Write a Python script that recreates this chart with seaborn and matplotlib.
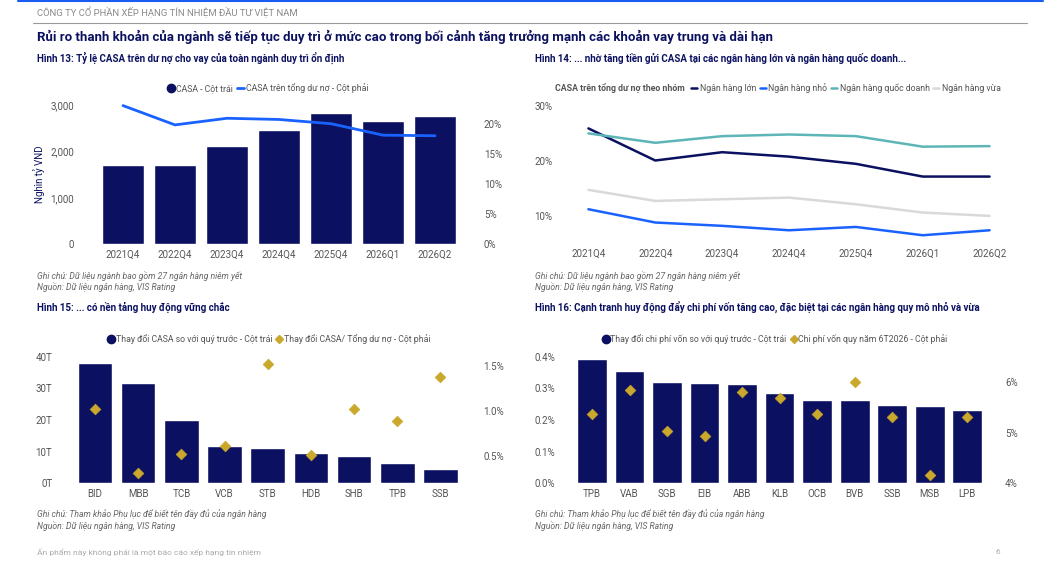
import numpy as np
import pandas as pd
import matplotlib
matplotlib.use("Agg")
import matplotlib.pyplot as plt
from matplotlib.lines import Line2D
import seaborn as sns

# ---------------- data ----------------
quarters = ["2021Q4", "2022Q4", "2023Q4", "2024Q4", "2025Q4", "2026Q1", "2026Q2"]
casa_total = [1702, 1700, 2113, 2451, 2819, 2646, 2754]          # nghìn tỷ VND
casa_ratio = [23.0, 19.8, 20.9, 20.7, 20.0, 18.1, 18.0]          # %

group_names = ["Ngân hàng lớn", "Ngân hàng nhỏ", "Ngân hàng quốc doanh", "Ngân hàng vừa"]
grp_large = [25.9, 20.1, 21.6, 20.8, 19.5, 17.2, 17.2]
grp_small = [11.3, 8.9, 8.3, 7.5, 8.1, 6.6, 7.5]
grp_state = [25.0, 23.3, 24.5, 24.8, 24.5, 22.6, 22.7]
grp_mid = [14.8, 12.8, 13.1, 13.4, 12.2, 10.7, 10.1]

banks15 = ["BID", "MBB", "TCB", "VCB", "STB", "HDB", "SHB", "TPB", "SSB"]
casa_change = [38.1, 31.7, 20.0, 11.8, 11.2, 9.6, 8.6, 6.4, 4.5]        # nghìn tỷ
casa_ratio_change = [1.02, 0.31, 0.52, 0.61, 1.52, 0.51, 1.02, 0.89, 1.38]  # %

banks16 = ["TPB", "VAB", "SGB", "EIB", "ABB", "KLB", "OCB", "BVB", "SSB", "MSB", "LPB"]
cof_change = [0.393, 0.355, 0.320, 0.317, 0.314, 0.285, 0.263, 0.263, 0.247, 0.244, 0.232]  # %
cof_annual = [5.37, 5.84, 5.04, 4.94, 5.80, 5.68, 5.37, 6.01, 5.31, 4.15, 5.30]             # %

# ---------------- style ----------------
sns.set_theme(style="white")
plt.rcParams["font.family"] = ["Roboto", "DejaVu Sans"]

NAVY = "#0B1160"
BLUE = "#1A62FF"
TEAL = "#5DB5B7"
LGRAY = "#D9D9D9"
GOLD = "#C9A82C"
TXT = "#555555"
NOTE = "#666666"

W, H = 1059, 580
PT = 100 / 72.0   # px per point
fig = plt.figure(figsize=(W / 100, H / 100), dpi=100)
fig.patch.set_facecolor("white")


def ax_px(x0, y0, x1, y1):
    return fig.add_axes([x0 / W, 1 - y1 / H, (x1 - x0) / W, (y1 - y0) / H])


def txt(x, y, s, **kw):
    fig.text(x / W, 1 - y / H, s, **kw)


def clean(ax):
    for sp in ax.spines.values():
        sp.set_visible(False)
    ax.tick_params(length=0, labelsize=7, colors=TXT)
    ax.set_xlabel("")
    ax.set_ylabel("")
    ax.set_facecolor("none")


# header lines
fig.add_artist(Line2D([18 / W, 1043 / W], [1 - 1 / H, 1 - 1 / H], color="#1A5CF0", lw=1.5))
fig.add_artist(Line2D([33 / W, 1027 / W], [1 - 22.5 / H, 1 - 22.5 / H], color="#9A9A9A", lw=0.8))
txt(37, 12, "CÔNG TY CỔ PHẦN XẾP HẠNG TÍN NHIỆM ĐẦU TƯ VIỆT NAM", fontsize=6.8, color="#8A8A8A", va="center")
txt(37, 37, "Rủi ro thanh khoản của ngành sẽ tiếp tục duy trì ở mức cao trong bối cảnh tăng trưởng mạnh các khoản vay trung và dài hạn",
    fontsize=9.5, fontweight="bold", color=NAVY, va="center")
SUB = 7.0
txt(37, 58, "Hình 13: Tỷ lệ CASA trên dư nợ cho vay của toàn ngành duy trì ổn định", fontsize=SUB, fontweight="bold", color=NAVY, va="center")
txt(535, 58, "Hình 14: ... nhờ tăng tiền gửi CASA tại các ngân hàng lớn và ngân hàng quốc doanh...", fontsize=SUB, fontweight="bold", color=NAVY, va="center")
txt(37, 307, "Hình 15: ... có nền tảng huy động vững chắc", fontsize=SUB, fontweight="bold", color=NAVY, va="center")
txt(535, 307, "Hình 16: Cạnh tranh huy động đẩy chi phí vốn tăng cao, đặc biệt tại các ngân hàng quy mô nhỏ và vừa", fontsize=SUB, fontweight="bold", color=NAVY, va="center")

# notes
NS = 6.2
for x0 in (37, 535):
    txt(x0, 276, "Ghi chú: Dữ liệu ngành bao gồm 27 ngân hàng niêm yết", fontsize=NS, style="italic", color=NOTE, va="center")
    txt(x0, 287, "Nguồn: Dữ liệu ngân hàng, VIS Rating", fontsize=NS, style="italic", color=NOTE, va="center")
    txt(x0, 514, "Ghi chú: Tham khảo Phụ lục để biết tên đầy đủ của ngân hàng", fontsize=NS, style="italic", color=NOTE, va="center")
    txt(x0, 526, "Nguồn: Dữ liệu ngân hàng, VIS Rating", fontsize=NS, style="italic", color=NOTE, va="center")
txt(37, 552, "Ấn phẩm này không phải là một báo cáo xếp hạng tín nhiệm", fontsize=6, color="#AAAAAA", va="center")
txt(995, 552, "6", fontsize=6, color="#AAAAAA", va="center")

LEG = dict(frameon=False, fontsize=6.3, labelcolor=TXT, borderaxespad=0, borderpad=0,
           bbox_transform=fig.transFigure, ncol=2)

# ---------------- Chart 13 ----------------
ax1 = ax_px(97, 105, 461, 244.3)
sns.barplot(x=quarters, y=casa_total, color=NAVY, saturation=1, width=0.79, ax=ax1)
ax1b = ax1.twinx()
sns.lineplot(x=quarters, y=casa_ratio, color=BLUE, lw=2, ax=ax1b, clip_on=False)
ax1.set_xlim(-0.5, len(quarters) - 0.5)
ax1.set_ylim(0, 3000)
ax1.set_yticks([0, 1000, 2000, 3000])
ax1.set_yticklabels(["0", "1,000", "2,000", "3,000"])
clean(ax1)
ax1.tick_params(axis="y", pad=23 / PT)
ax1.tick_params(axis="x", pad=4)
ax1.set_ylabel("Nghìn tỷ VND", fontsize=7, color=NAVY, labelpad=4)
ax1b.set_ylim(0, 23.1)
ax1b.set_yticks([0, 5, 10, 15, 20])
ax1b.set_yticklabels([f"{v}%" for v in [0, 5, 10, 15, 20]])
clean(ax1b)
ax1b.tick_params(axis="y", pad=23 / PT)
h13 = [Line2D([], [], marker="o", ls="", color=NAVY, markersize=6),
       Line2D([], [], color=BLUE, lw=2)]
ax1.legend(h13, ["CASA - Cột trái", "CASA trên tổng dư nợ - Cột phải"], loc="center",
           bbox_to_anchor=(268 / W, 1 - 88 / H), handlelength=0.8, handletextpad=0.15,
           columnspacing=0.5, **LEG)

# ---------------- Chart 14 ----------------
ax2 = ax_px(555, 105.7, 1023, 243)
df14 = pd.DataFrame({
    "q": quarters * 4,
    "v": grp_large + grp_small + grp_state + grp_mid,
    "g": sum([[g] * len(quarters) for g in group_names], []),
})
pal14 = dict(zip(group_names, [NAVY, BLUE, TEAL, LGRAY]))
sns.lineplot(data=df14, x="q", y="v", hue="g", palette=pal14, lw=1.8, ax=ax2, legend=False)
ax2.set_xlim(-0.5, 6.5)
ax2.set_ylim(5.2, 30)
ax2.set_yticks([10, 20, 30])
ax2.set_yticklabels(["10%", "20%", "30%"])
clean(ax2)
ax2.tick_params(axis="y", pad=2)
ax2.tick_params(axis="x", pad=4)
txt(555, 88, "CASA trên tổng dư nợ theo nhóm", fontsize=6.3, fontweight="bold", color=TXT, va="center")
h14 = [Line2D([], [], color=pal14[g], lw=1.8) for g in group_names]
ax2.legend(h14, group_names, loc="center left", bbox_to_anchor=(691 / W, 1 - 88 / H),
           handlelength=0.7, handletextpad=0.3, columnspacing=0.4,
           **{**LEG, "ncol": 4})

# ---------------- Chart 15 ----------------
ax3 = ax_px(73.4, 357, 462, 483)
sns.barplot(x=banks15, y=casa_change, color=NAVY, saturation=1, width=0.8, ax=ax3)
ax3b = ax3.twinx()
sns.scatterplot(x=banks15, y=casa_ratio_change, marker="D", s=30, color=GOLD, edgecolor=GOLD,
                ax=ax3b, clip_on=False, zorder=5)
ax3.set_xlim(-0.5, len(banks15) - 0.5)
ax3.set_ylim(0, 40)
ax3.set_yticks([0, 10, 20, 30, 40])
ax3.set_yticklabels([f"{v}T" for v in [0, 10, 20, 30, 40]])
clean(ax3)
ax3.tick_params(axis="y", pad=21 / PT)
ax3.tick_params(axis="x", pad=4)
ax3b.set_ylim(0.204, 1.60)
ax3b.set_yticks([0.5, 1.0, 1.5])
ax3b.set_yticklabels(["0.5%", "1.0%", "1.5%"])
clean(ax3b)
ax3b.tick_params(axis="y", pad=21 / PT)
h15 = [Line2D([], [], marker="o", ls="", color=NAVY, markersize=6),
       Line2D([], [], marker="D", ls="", color=GOLD, markersize=4.5)]
ax3.legend(h15, ["Thay đổi CASA so với quý trước - Cột trái", "Thay đổi CASA/ Tổng dư nợ - Cột phải"],
           loc="center", bbox_to_anchor=(269 / W, 1 - 339 / H), handlelength=0.8,
           handletextpad=0.1, columnspacing=0.4, **LEG)

# ---------------- Chart 16 ----------------
ax4 = ax_px(573.3, 357, 986, 483)
sns.barplot(x=banks16, y=cof_change, color=NAVY, saturation=1, width=0.79, ax=ax4)
ax4b = ax4.twinx()
sns.scatterplot(x=banks16, y=cof_annual, marker="D", s=30, color=GOLD, edgecolor=GOLD,
                ax=ax4b, clip_on=False, zorder=5)
ax4.set_xlim(-0.5, len(banks16) - 0.5)
ax4.set_ylim(0, 0.4)
ax4.set_yticks([0, 0.1, 0.2, 0.3, 0.4])
ax4.set_yticklabels(["0.0%", "0.1%", "0.2%", "0.3%", "0.4%"])
clean(ax4)
ax4.tick_params(axis="y", pad=18 / PT)
ax4.tick_params(axis="x", pad=4)
ax4b.set_ylim(4, 6.5)
ax4b.set_yticks([4, 5, 6])
ax4b.set_yticklabels(["4%", "5%", "6%"])
clean(ax4b)
ax4b.tick_params(axis="y", pad=19 / PT)
h16 = [Line2D([], [], marker="o", ls="", color=NAVY, markersize=6),
       Line2D([], [], marker="D", ls="", color=GOLD, markersize=4.5)]
ax4.legend(h16, ["Thay đổi chi phí vốn so với quý trước - Cột trái", "Chi phí vốn quy năm 6T2026 - Cột phải"],
           loc="center", bbox_to_anchor=(775 / W, 1 - 339 / H), handlelength=0.8,
           handletextpad=0.1, columnspacing=0.4, **LEG)

fig.savefig("out.png", dpi=100, facecolor="white")
